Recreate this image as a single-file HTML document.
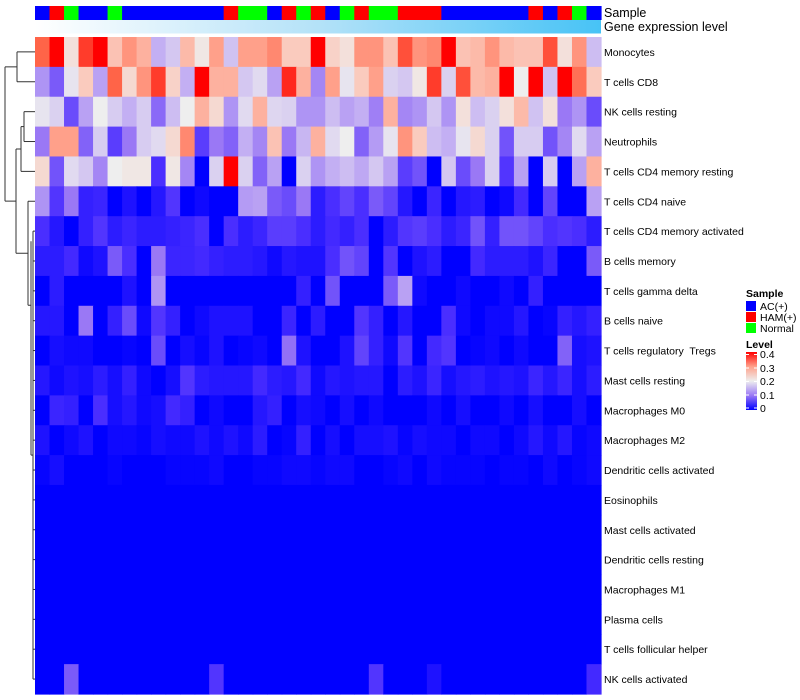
<!DOCTYPE html>
<html><head><meta charset="utf-8"><style>
html,body{margin:0;padding:0;background:#fff;}
svg{display:block;font-family:"Liberation Sans",sans-serif;}
#labels text{white-space:pre;}
</style></head><body>
<svg id="chart" width="800" height="700" viewBox="0 0 800 700">
<defs>
<linearGradient id="geneGrad" x1="0" x2="1" y1="0" y2="0"><stop offset="0" stop-color="#FFFFFF"/><stop offset="0.5" stop-color="#B4E2F8"/><stop offset="1" stop-color="#47C3F6"/></linearGradient>
<linearGradient id="levelGrad" x1="0" x2="0" y1="1" y2="0"><stop offset="0" stop-color="#0000FF"/><stop offset="0.25" stop-color="#9A78F5"/><stop offset="0.5" stop-color="#EEEEEE"/><stop offset="0.75" stop-color="#FFA08A"/><stop offset="1" stop-color="#FF0000"/></linearGradient>
</defs>
<g id="dendro" stroke="#333" stroke-width="1" fill="none"></g>
<g id="cells"></g>
<g id="annot"></g>
<g id="labels" font-size="10.5" fill="#000"></g>
<text x="604" y="17" font-size="12.5">Sample</text>
<text x="604" y="31" font-size="12.5">Gene expression level</text>
<g font-size="10.5">
<text x="746" y="297" font-weight="bold">Sample</text>
<rect x="746" y="301" width="10" height="10" fill="#0000FF"/>
<text x="760" y="310">AC(+)</text>
<rect x="746" y="312" width="10" height="10" fill="#FF0000"/>
<text x="760" y="321">HAM(+)</text>
<rect x="746" y="323" width="10" height="10" fill="#00FF00"/>
<text x="760" y="332">Normal</text>
<text x="746" y="348" font-weight="bold">Level</text>
<rect x="746" y="352" width="11" height="58" fill="url(#levelGrad)"/>
<g stroke="#fff" stroke-width="1">
<line x1="746" x2="749" y1="354.5" y2="354.5"/><line x1="754" x2="757" y1="354.5" y2="354.5"/>
<line x1="746" x2="749" y1="368" y2="368"/><line x1="754" x2="757" y1="368" y2="368"/>
<line x1="746" x2="749" y1="381.5" y2="381.5"/><line x1="754" x2="757" y1="381.5" y2="381.5"/>
<line x1="746" x2="749" y1="395" y2="395"/><line x1="754" x2="757" y1="395" y2="395"/>
<line x1="746" x2="749" y1="408" y2="408"/><line x1="754" x2="757" y1="408" y2="408"/>
</g>
<text x="760" y="358">0.4</text>
<text x="760" y="372">0.3</text>
<text x="760" y="385">0.2</text>
<text x="760" y="399">0.1</text>
<text x="760" y="412">0</text>
</g>
</svg>
<script>
const rowLabels = ["Monocytes","T cells CD8","NK cells resting","Neutrophils","T cells CD4 memory resting","T cells CD4 naive","T cells CD4 memory activated","B cells memory","T cells gamma delta","B cells naive","T cells regulatory  Tregs","Mast cells resting","Macrophages M0","Macrophages M2","Dendritic cells activated","Eosinophils","Mast cells activated","Dendritic cells resting","Macrophages M1","Plasma cells","T cells follicular helper","NK cells activated"];
const sampleGroups = ["A","H","N","A","A","N","A","A","A","A","A","A","A","H","N","N","A","H","N","H","A","N","H","N","N","H","H","H","A","A","A","A","A","A","H","A","H","N","A"];
const groupColors = {A:"#0000FF",H:"#FF0000",N:"#00FF00"};
const Z = new Array(39).fill(0);
const heatValues = [
[.35,.4,.22,.37,.4,.26,.31,.28,.14,.16,.27,.21,.3,.155,.3,.3,.32,.25,.25,.4,.24,.22,.31,.31,.26,.36,.31,.32,.4,.26,.27,.31,.27,.26,.26,.36,.22,.31,.15],
[.12,.08,.19,.25,.13,.35,.23,.31,.37,.24,.14,.4,.28,.28,.16,.18,.13,.38,.28,.11,.3,.19,.25,.3,.17,.16,.21,.37,.17,.36,.27,.28,.4,.2,.4,.155,.4,.34,.25],
[.19,.17,.07,.13,.2,.165,.14,.165,.09,.15,.2,.28,.23,.12,.18,.28,.175,.17,.12,.12,.15,.13,.14,.105,.28,.11,.12,.16,.12,.22,.15,.17,.22,.27,.155,.22,.1,.12,.07],
[.1,.3,.3,.085,.165,.06,.1,.165,.18,.23,.32,.06,.1,.085,.14,.11,.26,.1,.145,.28,.18,.2,.085,.125,.19,.31,.25,.15,.14,.19,.23,.17,.075,.165,.165,.075,.11,.18,.13],
[.23,.075,.18,.16,.11,.2,.21,.21,.05,.21,.11,0,.17,.4,.17,.085,.13,0,.17,.12,.14,.15,.135,.16,.13,.06,.075,0,.16,.07,.1,.17,.055,.13,0,.165,0,.13,.28],
[.12,.055,.1,.035,.04,0,.02,0,.025,.055,0,.01,0,0,.125,.13,.08,.07,.1,.03,.05,.065,.05,.08,.065,.025,0,.04,0,.025,.03,0,.01,.045,0,.065,0,0,.13],
[.05,.025,0,.035,.055,.03,.04,.03,.03,.035,.04,.05,0,.05,.03,.04,.06,.06,.05,.03,.045,.035,.05,0,.03,.055,.06,.05,.03,.04,.075,.035,.075,.075,.065,.05,.055,.05,.03],
[.03,.03,.045,.01,.02,.08,.05,0,.1,.04,.04,.045,.035,.03,.03,.025,.01,.025,.02,.02,.05,.075,.065,0,.055,0,.02,.03,0,0,.045,.03,.03,.03,.02,.04,0,0,.08],
[0,.03,0,0,0,0,.02,0,.12,0,0,0,0,0,0,0,0,0,.035,0,.075,0,0,0,.08,.13,.01,0,0,.01,0,0,.01,0,.035,0,0,0,0],
[.025,.025,0,.1,0,.035,.07,.01,.055,.035,0,.01,.02,.02,.02,0,0,.04,0,.03,0,0,.055,.035,0,.025,0,0,.05,.01,0,.01,.01,.025,0,.005,.035,.025,.035],
[0,.015,.01,.01,0,0,.005,0,.07,0,.015,.005,.02,0,.005,.01,0,.095,.02,0,0,.02,.065,.035,.01,.055,0,.045,.055,0,.005,.01,0,.01,0,0,.085,.015,.02],
[.025,.01,.02,.015,.03,.015,.035,.01,0,.015,.055,.03,.025,.025,.025,.045,.03,.025,.045,.01,.025,.02,.025,.025,0,.03,.02,.04,.015,.025,.03,.02,.025,.02,.04,.025,.04,.015,.03],
[0,.04,.035,0,.05,.015,.025,.01,.015,.045,.035,0,.01,0,0,.025,.035,0,.015,.01,0,.015,0,.01,0,0,0,.01,0,.015,0,0,.01,0,.015,0,0,.015,0],
[.02,0,.01,.02,0,.01,.01,.005,.015,.01,.01,.02,.01,.02,.01,.03,0,.005,.035,0,.015,0,.015,.015,.02,.005,.015,.01,.01,0,.01,.01,0,.01,.025,.01,.025,.005,.01],
[.005,.015,0,0,0,.005,0,0,0,.005,.005,.005,.01,0,0,.005,.005,.01,.01,.005,.01,.01,0,0,.005,.01,0,.01,.005,.005,.005,0,.005,.005,0,.01,0,.005,.01],
Z,Z,Z,Z,Z,Z,
[0,0,.08,0,0,0,0,0,0,0,0,0,.055,0,0,0,0,0,0,0,0,0,0,.055,0,0,0,.02,0,0,0,0,0,0,0,0,0,0,.045]
];
const X0=35, X1=601, Y0=37, Y1=694;
const nCols = sampleGroups.length, nRows = rowLabels.length;
const cw=(X1-X0)/nCols, rh=(Y1-Y0)/nRows;
const xPos = c => X0 + c*cw;
const yPos = r => Y0 + r*rh;
const stops=[[0,[0,0,255]],[0.05,[74,46,255]],[0.1,[154,120,245]],[0.15,[205,189,242]],[0.2,[238,238,238]],[0.25,[250,203,190]],[0.3,[255,160,138]],[0.35,[255,100,72]],[0.4,[255,0,0]]];
function colorOf(v){v=Math.max(0,Math.min(0.4,v));for(let i=1;i<stops.length;i++){if(v<=stops[i][0]){const a=stops[i-1],b=stops[i];const t=(v-a[0])/(b[0]-a[0]);const c=a[1].map((x,k)=>Math.round(x+(b[1][k]-x)*t));return `rgb(${c})`;}}return "rgb(255,0,0)";}
const NS="http://www.w3.org/2000/svg";
const cells=document.getElementById('cells');
for(let r=0;r<nRows;r++){for(let c=0;c<nCols;c++){
 const el=document.createElementNS(NS,'rect');
 el.setAttribute('x',xPos(c));el.setAttribute('y',yPos(r));
 el.setAttribute('width',cw+0.6);el.setAttribute('height',rh+0.6);
 el.setAttribute('fill',colorOf(heatValues[r][c]));
 
 
 cells.appendChild(el);
}}
const annot=document.getElementById('annot');
for(let c=0;c<nCols;c++){
 const el=document.createElementNS(NS,'rect');
 el.setAttribute('x',xPos(c));el.setAttribute('y',6);el.setAttribute('width',cw+0.6);el.setAttribute('height',14);
 el.setAttribute('fill',groupColors[sampleGroups[c]]);
 
 
 annot.appendChild(el);
}
const g=document.createElementNS(NS,'rect');
g.setAttribute('x',X0);g.setAttribute('y',20);g.setAttribute('width',X1-X0);g.setAttribute('height',13.5);g.setAttribute('fill','url(#geneGrad)');


annot.appendChild(g);
const labels=document.getElementById('labels');
rowLabels.forEach((t,r)=>{
 const el=document.createElementNS(NS,'text');
 el.setAttribute('x',604);el.setAttribute('y',yPos(r)+rh/2+4);el.textContent=t;
 
 
 labels.appendChild(el);
});
const d=document.getElementById('dendro');
const cy=r=>yPos(r)+rh/2;
function seg(x1,y1,x2,y2){const l=document.createElementNS(NS,'line');l.setAttribute('x1',x1);l.setAttribute('y1',y1);l.setAttribute('x2',x2);l.setAttribute('y2',y2);
 
 
 d.appendChild(l);}
seg(17,cy(0),35,cy(0));seg(17,cy(1),35,cy(1));seg(17,cy(0),17,cy(1));
const mTop=(cy(0)+cy(1))/2;
seg(24,cy(2),35,cy(2));seg(24,cy(3),35,cy(3));seg(24,cy(2),24,cy(3));
const m23=(cy(2)+cy(3))/2;
seg(21,m23,24,m23);seg(21,cy(4),35,cy(4));seg(21,m23,21,cy(4));
const mA=(m23+cy(4))/2;
const lowTop=cy(6), lowBot=cy(21);
for(let r=6;r<=21;r++){seg(33,cy(r),35,cy(r));}
seg(33,lowTop,33,lowBot);
const mLow=(lowTop+lowBot)/2;
seg(31,mLow,33,mLow);seg(31,cy(5)+40,31,mLow);
seg(28,cy(5),35,cy(5));seg(28,cy(5),28,cy(5)+104);seg(28,cy(5)+104,31,cy(5)+104);
const mB=cy(5)+52;
seg(16,mA,21,mA);seg(16,mB,28,mB);seg(16,mA,16,mB);
const mC=(mA+mB)/2;
seg(5,mTop,17,mTop);seg(5,mC,16,mC);seg(5,mTop,5,mC);
</script>
</body></html>
